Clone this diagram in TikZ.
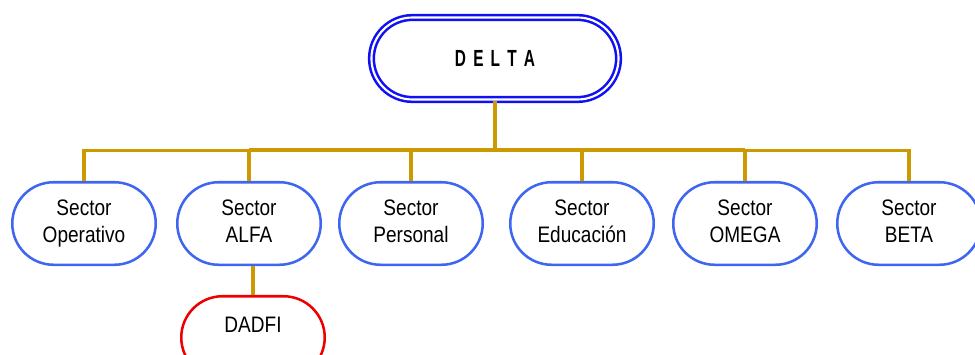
\documentclass[tikz,border=0pt]{standalone}
\usepackage{fontspec}
\usetikzlibrary{shapes.misc}
\newfontfamily\boxfont{Liberation Sans}[FakeStretch=0.85]
\newfontfamily\headfont{Liberation Sans}[FakeStretch=0.66]
\definecolor{sectorblue}{RGB}{62,102,240}
\definecolor{headblue}{RGB}{16,16,245}
\definecolor{unitred}{RGB}{238,0,0}
\definecolor{linkgold}{RGB}{204,153,0}
% two-line label with equal line boxes, so descenders do not shift it
\newcommand\twolines[2]{\rule[-4.5pt]{0pt}{16.5pt}#1\\\rule[-4.5pt]{0pt}{16.5pt}#2}
\begin{document}
\begin{tikzpicture}[x=0.75pt,y=-0.75pt,
  pill/.style={rounded rectangle, draw, line width=1.9pt, fill=white,
    minimum width=107.6pt, minimum height=61.9pt, inner sep=0pt,
    align=center, font=\boxfont\fontsize{16.8}{20.25}\selectfont},
  sector/.style={pill, draw=sectorblue},
  unit/.style={pill, draw=unitred},
  head/.style={rounded rectangle, draw=headblue, line width=1.9pt,
    double=white, double distance=1.6pt, minimum width=185.3pt,
    minimum height=61.5pt, inner sep=0pt,
    font=\headfont\bfseries\fontsize{17.5}{20}\selectfont},
  link/.style={draw=linkgold, line width=2.3pt}]
\useasboundingbox (0,0) rectangle (975,354);
\clip (0,0) rectangle (975,354);

% levels of the horizontal bus
\coordinate (bus) at (0,150.2);
\coordinate (bus2) at (0,149.8);
\coordinate (bus3) at (0,149.4);

% boxes
\node[head] (delta) at (495,58.5)
  {D\hspace{5.4pt}E\hspace{5.4pt}L\hspace{5.4pt}T\hspace{5.4pt}A};
\node[sector] (op)    at (84,223.5)  {\twolines{Sector}{Operativo}};
\node[sector] (alfa)  at (249,223.5) {\twolines{Sector}{ALFA}};
\node[sector] (pers)  at (411,223.5) {\twolines{Sector}{Personal}};
\node[sector] (edu)   at (582,223.5) {\twolines{Sector}{Educación}};
\node[sector] (omega) at (745,223.5) {\twolines{Sector}{OMEGA}};
\node[sector] (beta)  at (909,223.5) {\twolines{Sector}{BETA}};
\node[unit]   (dadfi) at (253,337.5) {\smash{\raisebox{4pt}{DADFI}}};

% tree lines
\draw[link] (delta.south) -- (delta.south |- bus);
\draw[link] (op.north) -- (op.north |- bus) -- (beta.north |- bus) -- (beta.north);
\draw[link, line width=2.5pt] (alfa.north |- bus2) -- (omega.north |- bus2);
\draw[link, line width=2.8pt] (pers.north |- bus3) -- (edu.north |- bus3);
\draw[link] (alfa.north) -- (alfa.north |- bus);
\draw[link] (pers.north) -- (pers.north |- bus);
\draw[link] (edu.north) -- (edu.north |- bus);
\draw[link] (omega.north) -- (omega.north |- bus);
\draw[link] (alfa.south -| dadfi.north) -- (dadfi.north);
\end{tikzpicture}
\end{document}
